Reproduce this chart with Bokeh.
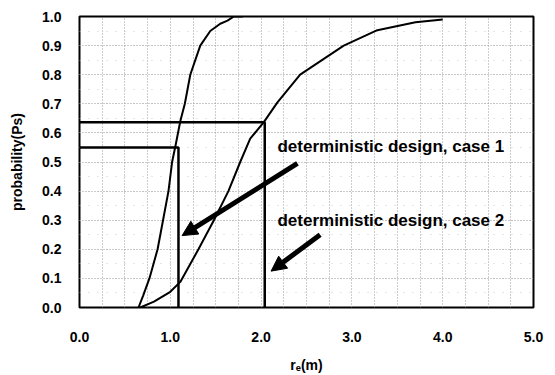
from bokeh.plotting import figure
from bokeh.models import (Range1d, SingleIntervalTicker, FixedTicker, Arrow, NormalHead,
                          CustomJSTickFormatter)
from bokeh.core.properties import value
from bokeh.embed import file_html
from bokeh.resources import INLINE

# ---- data ----
curve1_x = [0.65, 0.70, 0.77, 0.86, 0.92, 0.98, 1.02, 1.06, 1.11, 1.16, 1.22, 1.33, 1.44, 1.55, 1.63, 1.70, 1.80]
curve1_y = [0.0, 0.04, 0.10, 0.20, 0.30, 0.40, 0.50, 0.56, 0.64, 0.70, 0.80, 0.90, 0.95, 0.975, 0.986, 1.0, 1.0]

curve2_x = [0.67, 0.82, 1.00, 1.11, 1.31, 1.48, 1.64, 1.77, 1.88, 2.03, 2.18, 2.43, 2.91, 3.28, 3.70, 4.00]
curve2_y = [0.0, 0.02, 0.054, 0.088, 0.20, 0.30, 0.40, 0.50, 0.58, 0.637, 0.705, 0.80, 0.90, 0.953, 0.98, 0.99]

case1_r = 1.09
case1_p = 0.55
case2_r = 2.04
case2_p = 0.637

labels = ["deterministic design, case 1", "deterministic design, case 2"]
label_x = [2.18, 2.18]
label_y = [0.553, 0.30]

arrow_start_x = [2.40, 2.65]
arrow_start_y = [0.495, 0.25]
arrow_end_x = [1.13, 2.11]
arrow_end_y = [0.247, 0.125]

x_ticks = [0.0, 1.0, 2.0, 3.0, 4.0, 5.0]
y_ticks = [0.0, 0.1, 0.2, 0.3, 0.4, 0.5, 0.6, 0.7, 0.8, 0.9, 1.0]

FONT = "Liberation Sans"

p = figure(width=555, height=375, output_backend="svg", toolbar_location=None,
           x_range=Range1d(0, 5), y_range=Range1d(0, 1))
p.min_border_left = 79
p.min_border_right = 22
p.min_border_top = 16
p.min_border_bottom = 64

p.outline_line_color = "black"
p.outline_line_width = 2
p.background_fill_color = "white"
p.border_fill_color = "white"

# axes
for ax in (p.xaxis[0], p.yaxis[0]):
    ax.axis_line_color = None
    ax.major_tick_line_color = None
    ax.minor_tick_line_color = None
    ax.major_label_text_font = FONT
    ax.major_label_text_font_style = "bold"
    ax.major_label_text_font_size = "14px"
    ax.major_label_text_color = "black"
    ax.axis_label_text_font = FONT
    ax.axis_label_text_font_style = "bold"
    ax.axis_label_text_font_size = "14px"
    ax.axis_label_text_color = "black"
    ax.formatter = CustomJSTickFormatter(code="return tick.toFixed(1);")

p.xaxis.ticker = FixedTicker(ticks=x_ticks)
p.yaxis.ticker = FixedTicker(ticks=y_ticks)
p.xaxis.major_label_standoff = 18
p.yaxis.major_label_standoff = 12
p.xaxis.axis_label = "r\u2091(m)"
p.yaxis.axis_label = "probability(Ps)"
p.xaxis.axis_label_standoff = 12
p.yaxis.axis_label_standoff = 14

# grids
p.xgrid.ticker = SingleIntervalTicker(interval=0.25)
p.ygrid.ticker = SingleIntervalTicker(interval=0.1, num_minor_ticks=2)
for g in (p.xgrid[0], p.ygrid[0]):
    g.grid_line_color = "#9a9a9a"
    g.grid_line_dash = "1 2"
    g.grid_line_width = 1
p.ygrid.minor_grid_line_color = "#cccccc"
p.ygrid.minor_grid_line_dash = "1 8"

# design rectangles
p.line([0, case1_r, case1_r], [case1_p, case1_p, 0], line_color="black", line_width=2.5)
p.line([0, case2_r, case2_r], [case2_p, case2_p, 0], line_color="black", line_width=2.5)

# curves
p.line(curve1_x, curve1_y, line_color="black", line_width=2)
p.line(curve2_x, curve2_y, line_color="black", line_width=2)

# labels
p.text(x=label_x, y=label_y, text=labels, text_font=value(FONT), text_font_style="bold",
       text_font_size="17px", text_baseline="middle", text_align="left", text_color="black")

# arrows
for sx, sy, ex, ey in zip(arrow_start_x, arrow_start_y, arrow_end_x, arrow_end_y):
    p.add_layout(Arrow(x_start=sx, y_start=sy, x_end=ex, y_end=ey,
                       line_color="black", line_width=5,
                       end=NormalHead(size=15, fill_color="black", line_color="black")))

open("out.html", "w").write(file_html(p, INLINE))
